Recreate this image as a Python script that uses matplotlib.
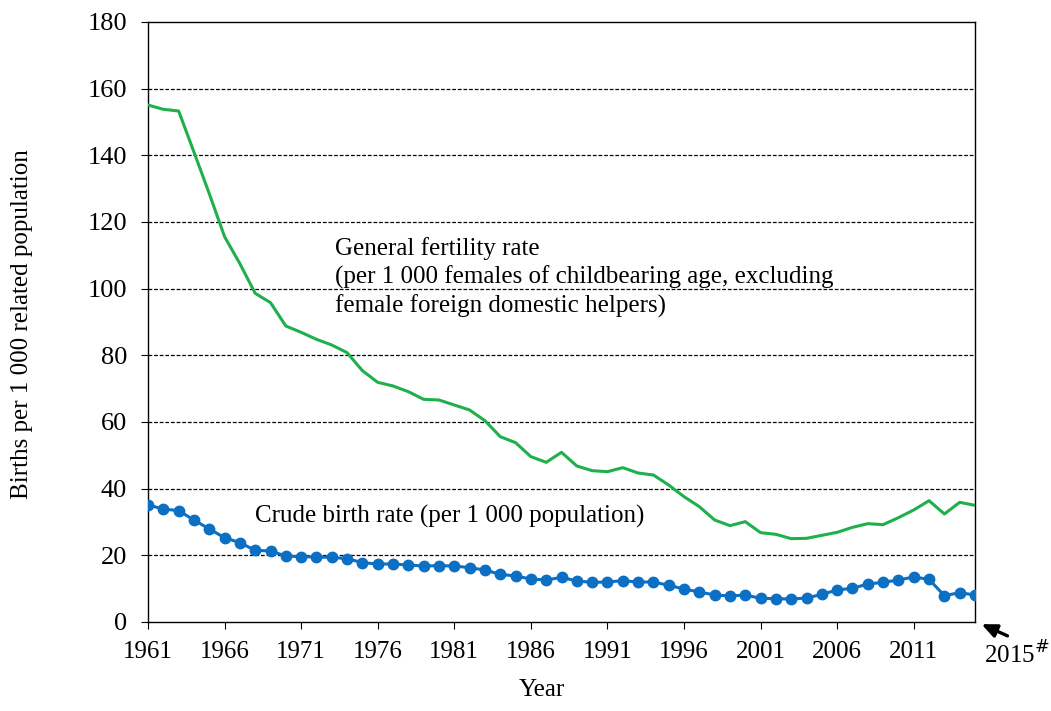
import numpy as np
import matplotlib.pyplot as plt

plt.rcParams['font.family'] = ['Liberation Serif', 'DejaVu Serif']

years = list(range(1961, 2016))

# General fertility rate (per 1 000 females of childbearing age)
gfr = [155.1, 153.8, 153.3, 141.0, 128.5, 115.6, 107.5, 98.6, 95.8, 88.8,
       86.9, 84.8, 83.1, 80.8, 75.4, 71.9, 70.8, 69.1, 66.8, 66.6,
       65.1, 63.6, 60.4, 55.6, 53.8, 49.6, 47.9, 50.9, 46.8, 45.4,
       45.1, 46.3, 44.7, 44.1, 41.1, 37.6, 34.6, 30.6, 28.9, 30.1,
       26.8, 26.3, 25.0, 25.1, 26.0, 26.9, 28.4, 29.5, 29.2, 31.3,
       33.6, 36.4, 32.4, 35.9, 35.0]

# Crude birth rate (per 1 000 population)
cbr = [35.1, 33.9, 33.4, 30.6, 27.9, 25.3, 23.8, 21.5, 21.3, 19.8,
       19.6, 19.5, 19.4, 19.0, 17.8, 17.4, 17.4, 17.1, 16.8, 16.9,
       16.8, 16.3, 15.6, 14.3, 13.8, 12.9, 12.6, 13.4, 12.3, 11.9,
       12.0, 12.4, 12.0, 12.0, 11.0, 9.9, 9.0, 8.1, 7.8, 8.1,
       7.1, 7.0, 6.9, 7.2, 8.3, 9.6, 10.1, 11.4, 11.9, 12.6,
       13.5, 12.8, 7.9, 8.8, 8.1]

xticks = list(range(1961, 2012, 5))
yticks = list(range(0, 181, 20))

gfr_label = ['General fertility rate',
             '(per 1 000 females of childbearing age, excluding',
             'female foreign domestic helpers)']
cbr_label = 'Crude birth rate (per 1 000 population)'

W, H = 1051, 711
fig = plt.figure(figsize=(W / 100, H / 100), dpi=100)
ax = fig.add_axes([148 / W, 1 - 622 / H, (975 - 148) / W, 600 / H])

# dashed gridlines
for v in yticks[1:-1]:
    ax.axhline(v, color='black', lw=0.9, ls=(0, (3, 1.5)), zorder=1)

ax.plot(years, gfr, color='#1fb04c', lw=2.2, zorder=3)
ax.plot(years, cbr, color='#0b6fc3', lw=2.2, marker='o', markersize=7.5, zorder=3)

ax.set_xlim(1961, 2015)
ax.set_ylim(0, 180)
ax.set_xticks(xticks)
ax.set_yticks(yticks)
ax.tick_params(axis='both', direction='out', length=5)
ax.tick_params(axis='x', labelsize=18, pad=9)
ax.tick_params(axis='y', labelsize=19, pad=10)
for s in ax.spines.values():
    s.set_linewidth(1.0)

# axis titles
fig.text(22 / W, 1 - 324 / H, 'Births per 1 000 related population', fontsize=18,
         rotation=90, ha='center', va='center')
fig.text(542 / W, 1 - 690 / H, 'Year', fontsize=18, ha='center', va='center')

# annotations, one line at a time
for i, line in enumerate(gfr_label):
    ax.text(1973.2, 110.1 - 8.7 * i, line, fontsize=18, va='baseline', ha='left')
ax.text(1968.0, 29.7, cbr_label, fontsize=18, va='baseline', ha='left')

ax.annotate('', xy=(979 / W, 1 - 623 / H), xycoords='figure fraction',
            xytext=(1010 / W, 1 - 637 / H), textcoords='figure fraction',
            arrowprops=dict(arrowstyle='-|>,head_length=0.9,head_width=0.4', color='black', lw=2.4))
fig.text(984 / W, 1 - 664 / H, '2015$^{\\#}$', fontsize=18, ha='left', va='baseline')

fig.savefig('out.png', dpi=100)
